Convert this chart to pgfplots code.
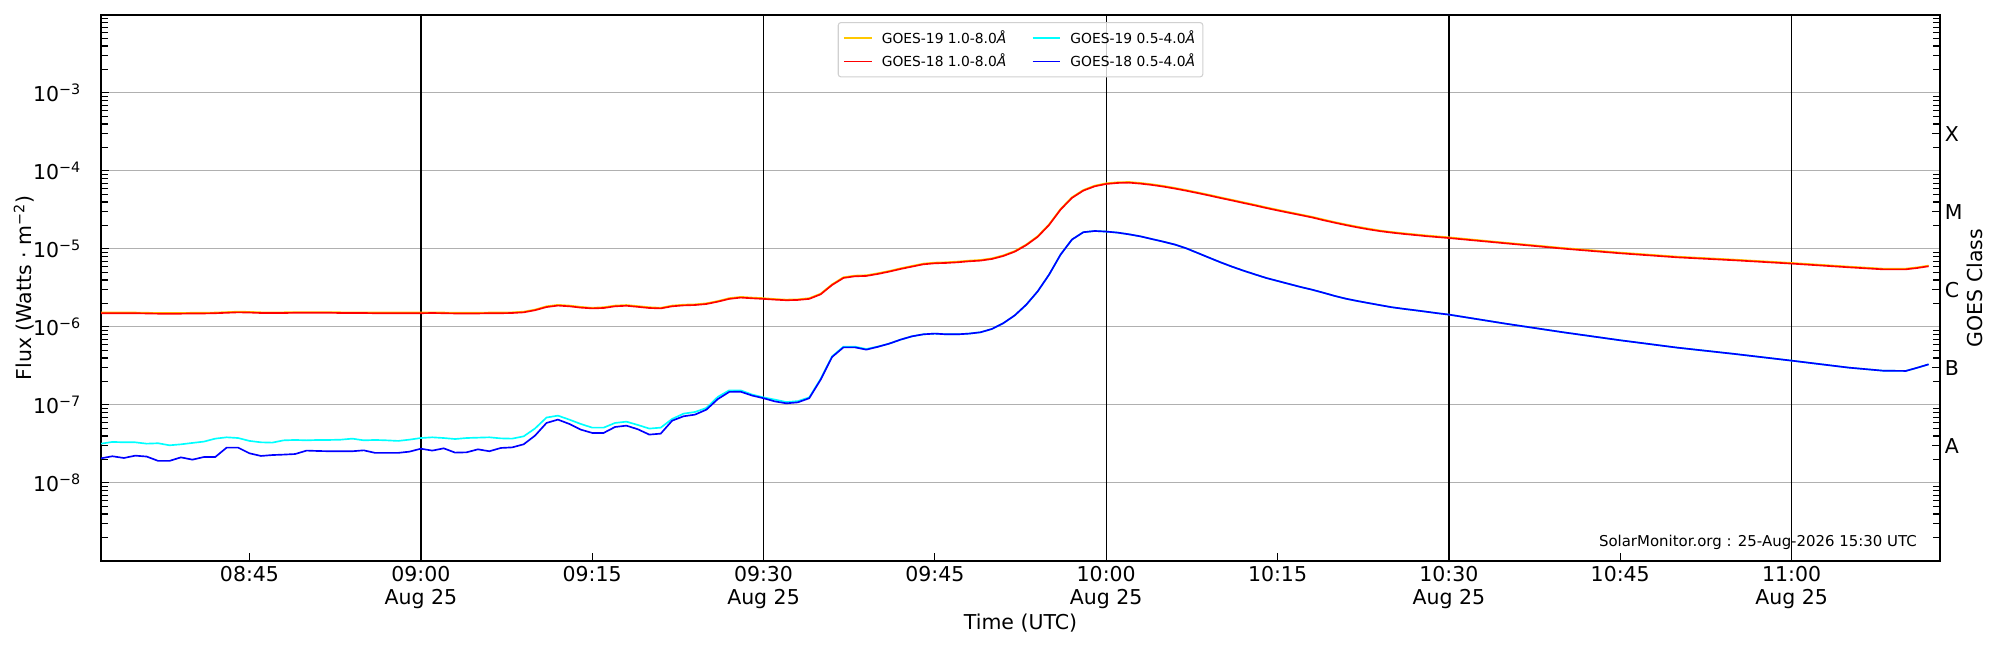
\documentclass[border=0pt]{standalone}
\usepackage{fontspec}
\setmainfont{DejaVu Sans}
\usepackage{pgfplots}
\pgfplotsset{compat=1.18}
\usepackage{pgfplotstable}

\definecolor{gAlong}{HTML}{FF0000}
\definecolor{gAshort}{HTML}{0000FF}
\definecolor{gBlong}{HTML}{FFC800}
\definecolor{gBshort}{HTML}{00FFFF}
\definecolor{gridgray}{HTML}{B0B0B0}
\definecolor{leggray}{HTML}{D0D0D0}

\newcommand{\tf}{\fontsize{14.8}{17.3}\selectfont}

% t = minutes after 09:00 UTC; r = GOES-18 1-8A, b = GOES-18 0.5-4A, g = GOES-19 1-8A, c = GOES-19 0.5-4A
\pgfplotstableread{
t r b g c
-28 1.50e-6 2.07e-8 1.53e-6 3.19e-8
-27 1.50e-6 2.20e-8 1.53e-6 3.36e-8
-26 1.50e-6 2.09e-8 1.53e-6 3.32e-8
-25 1.50e-6 2.24e-8 1.53e-6 3.32e-8
-24 1.49e-6 2.18e-8 1.52e-6 3.19e-8
-23 1.48e-6 1.92e-8 1.51e-6 3.23e-8
-22 1.48e-6 1.92e-8 1.51e-6 3.04e-8
-21 1.48e-6 2.13e-8 1.51e-6 3.13e-8
-20 1.49e-6 1.99e-8 1.52e-6 3.26e-8
-19 1.49e-6 2.15e-8 1.52e-6 3.39e-8
-18 1.50e-6 2.15e-8 1.53e-6 3.70e-8
-17 1.52e-6 2.84e-8 1.55e-6 3.85e-8
-16 1.54e-6 2.84e-8 1.57e-6 3.77e-8
-15 1.53e-6 2.40e-8 1.56e-6 3.46e-8
-14 1.51e-6 2.22e-8 1.54e-6 3.32e-8
-13 1.51e-6 2.28e-8 1.54e-6 3.29e-8
-12 1.51e-6 2.31e-8 1.54e-6 3.52e-8
-11 1.52e-6 2.35e-8 1.55e-6 3.56e-8
-10 1.52e-6 2.60e-8 1.55e-6 3.52e-8
-9 1.52e-6 2.57e-8 1.55e-6 3.56e-8
-8 1.52e-6 2.55e-8 1.55e-6 3.56e-8
-7 1.51e-6 2.55e-8 1.54e-6 3.59e-8
-6 1.51e-6 2.55e-8 1.54e-6 3.70e-8
-5 1.51e-6 2.62e-8 1.54e-6 3.52e-8
-4 1.50e-6 2.43e-8 1.53e-6 3.56e-8
-3 1.50e-6 2.43e-8 1.53e-6 3.52e-8
-2 1.50e-6 2.43e-8 1.53e-6 3.46e-8
-1 1.50e-6 2.52e-8 1.53e-6 3.59e-8
0 1.50e-6 2.75e-8 1.53e-6 3.77e-8
1 1.51e-6 2.60e-8 1.54e-6 3.85e-8
2 1.50e-6 2.78e-8 1.53e-6 3.77e-8
3 1.49e-6 2.45e-8 1.52e-6 3.66e-8
4 1.49e-6 2.47e-8 1.52e-6 3.77e-8
5 1.49e-6 2.70e-8 1.52e-6 3.81e-8
6 1.50e-6 2.55e-8 1.53e-6 3.85e-8
7 1.50e-6 2.81e-8 1.53e-6 3.73e-8
8 1.51e-6 2.86e-8 1.54e-6 3.70e-8
9 1.54e-6 3.13e-8 1.57e-6 3.96e-8
10 1.64e-6 4.05e-8 1.67e-6 5.00e-8
11 1.80e-6 5.88e-8 1.84e-6 6.90e-8
12 1.88e-6 6.49e-8 1.92e-6 7.30e-8
13 1.84e-6 5.71e-8 1.88e-6 6.49e-8
14 1.77e-6 4.83e-8 1.81e-6 5.71e-8
15 1.73e-6 4.38e-8 1.76e-6 5.12e-8
16 1.75e-6 4.38e-8 1.79e-6 5.12e-8
17 1.84e-6 5.22e-8 1.88e-6 5.88e-8
18 1.87e-6 5.43e-8 1.91e-6 6.11e-8
19 1.81e-6 4.88e-8 1.85e-6 5.54e-8
20 1.75e-6 4.17e-8 1.79e-6 4.98e-8
21 1.73e-6 4.29e-8 1.76e-6 5.12e-8
22 1.84e-6 6.29e-8 1.88e-6 6.62e-8
23 1.89e-6 7.16e-8 1.93e-6 7.74e-8
24 1.91e-6 7.52e-8 1.95e-6 8.13e-8
25 1.97e-6 8.71e-8 2.01e-6 9.16e-8
26 2.11e-6 1.19e-7 2.15e-6 1.27e-7
27 2.29e-6 1.47e-7 2.34e-6 1.54e-7
28 2.38e-6 1.48e-7 2.43e-6 1.54e-7
29 2.33e-6 1.32e-7 2.38e-6 1.36e-7
30 2.29e-6 1.22e-7 2.34e-6 1.25e-7
31 2.24e-6 1.11e-7 2.28e-6 1.17e-7
32 2.20e-6 1.05e-7 2.24e-6 1.09e-7
33 2.22e-6 1.08e-7 2.26e-6 1.12e-7
34 2.29e-6 1.22e-7 2.34e-6 1.25e-7
35 2.62e-6 2.11e-7 2.67e-6 2.16e-7
36 3.45e-6 4.12e-7 3.52e-6 4.20e-7
37 4.25e-6 5.48e-7 4.34e-6 5.59e-7
38 4.46e-6 5.48e-7 4.55e-6 5.59e-7
39 4.51e-6 5.12e-7 4.60e-6 5.22e-7
40 4.78e-6 5.56e-7 4.88e-6 5.60e-7
41 5.12e-6 6.11e-7 5.22e-6 6.11e-7
42 5.54e-6 6.88e-7 5.65e-6 6.88e-7
43 5.94e-6 7.59e-7 6.06e-6 7.59e-7
44 6.36e-6 8.05e-7 6.49e-6 8.05e-7
45 6.55e-6 8.22e-7 6.68e-6 8.22e-7
46 6.62e-6 8.05e-7 6.75e-6 8.05e-7
47 6.75e-6 8.05e-7 6.89e-6 8.05e-7
48 6.95e-6 8.22e-7 7.09e-6 8.22e-7
49 7.09e-6 8.55e-7 7.23e-6 8.55e-7
50 7.44e-6 9.43e-7 7.59e-6 9.43e-7
51 8.13e-6 1.12e-6 8.29e-6 1.12e-6
52 9.24e-6 1.41e-6 9.42e-6 1.41e-6
53 1.12e-5 1.93e-6 1.14e-5 1.93e-6
54 1.43e-5 2.86e-6 1.46e-5 2.86e-6
55 2.03e-5 4.69e-6 2.07e-5 4.69e-6
56 3.19e-5 8.45e-6 3.25e-5 8.45e-6
57 4.51e-5 1.32e-5 4.60e-5 1.32e-5
58 5.60e-5 1.64e-5 5.71e-5 1.64e-5
59 6.36e-5 1.70e-5 6.49e-5 1.70e-5
60 6.81e-5 1.67e-5 6.95e-5 1.67e-5
61 7.02e-5 1.62e-5 7.16e-5 1.62e-5
62 7.08e-5 1.54e-5 7.22e-5 1.54e-5
63 6.88e-5 1.45e-5 7.02e-5 1.45e-5
64 6.62e-5 1.34e-5 6.75e-5 1.34e-5
65 6.30e-5 1.24e-5 6.43e-5 1.24e-5
66 5.95e-5 1.14e-5 6.07e-5 1.14e-5
67 5.58e-5 1.02e-5 5.69e-5 1.02e-5
68 5.21e-5 8.89e-6 5.31e-5 8.89e-6
69 4.85e-5 7.74e-6 4.95e-5 7.74e-6
70 4.50e-5 6.75e-6 4.59e-5 6.75e-6
71 4.19e-5 5.94e-6 4.27e-5 5.94e-6
72 3.89e-5 5.28e-6 3.97e-5 5.28e-6
73 3.62e-5 4.73e-6 3.69e-5 4.73e-6
74 3.35e-5 4.25e-6 3.42e-5 4.25e-6
75 3.12e-5 3.89e-6 3.18e-5 3.89e-6
76 2.91e-5 3.56e-6 2.97e-5 3.56e-6
77 2.72e-5 3.26e-6 2.77e-5 3.26e-6
78 2.54e-5 3.01e-6 2.59e-5 3.01e-6
79 2.34e-5 2.75e-6 2.39e-5 2.75e-6
80 2.17e-5 2.50e-6 2.21e-5 2.50e-6
81 2.02e-5 2.30e-6 2.06e-5 2.30e-6
82 1.89e-5 2.15e-6 1.93e-5 2.15e-6
83 1.78e-5 2.02e-6 1.82e-5 2.02e-6
84 1.69e-5 1.90e-6 1.72e-5 1.90e-6
85 1.62e-5 1.79e-6 1.65e-5 1.79e-6
86 1.56e-5 1.71e-6 1.59e-5 1.71e-6
87 1.51e-5 1.64e-6 1.54e-5 1.64e-6
88 1.46e-5 1.57e-6 1.49e-5 1.57e-6
89 1.42e-5 1.50e-6 1.45e-5 1.50e-6
90 1.38e-5 1.44e-6 1.41e-5 1.44e-6
95 1.18e-5 1.10e-6 1.20e-5 1.10e-6
100 1.01e-5 8.55e-7 1.03e-5 8.55e-7
105 8.80e-6 6.75e-7 8.98e-6 6.75e-7
110 7.81e-6 5.43e-7 7.97e-6 5.43e-7
115 7.16e-6 4.51e-7 7.30e-6 4.51e-7
120 6.49e-6 3.70e-7 6.62e-6 3.70e-7
125 5.82e-6 3.01e-7 5.94e-6 3.01e-7
128 5.48e-6 2.75e-7 5.59e-6 2.75e-7
130 5.48e-6 2.73e-7 5.59e-6 2.73e-7
131 5.70e-6 3.00e-7 5.81e-6 3.00e-7
132 6.00e-6 3.32e-7 6.12e-6 3.32e-7
}\goesdata

\begin{document}
\begin{tikzpicture}
\path[use as bounding box] (-73.0pt,-64.3pt) rectangle (1372.4pt,405.4pt);
\begin{axis}[
  at={(0pt,0pt)}, anchor=south west,
  scale only axis, width=1329.1pt, height=394.6pt,
  xmin=-28, xmax=133,
  ymode=log, ymin=1e-9, ymax=1e-2,
  axis line style={line width=1pt},
  tick style={line width=0.75pt, black},
  major tick length=6pt, minor tick length=5pt,
  tick align=inside,
  xtick pos=bottom, ytick pos=left,
  xtick={-15,15,45,75,105},
  xticklabels={08:45,09:15,09:45,10:15,10:45},
  extra x ticks={0,30,60,90,120},
  extra x tick labels={{09:00\\Aug 25},{09:30\\Aug 25},{10:00\\Aug 25},{10:30\\Aug 25},{11:00\\Aug 25}},
  extra x tick style={grid=major, major grid style={black, line width=1pt}},
  xticklabel style={font=\tf, align=center},
  ytick={1e-8,1e-7,1e-6,1e-5,1e-4,1e-3},
  yticklabels={10\textsuperscript{−8},10\textsuperscript{−7},10\textsuperscript{−6},10\textsuperscript{−5},10\textsuperscript{−4},10\textsuperscript{−3}},
  minor ytick={2e-9,3e-9,4e-9,5e-9,6e-9,7e-9,8e-9,9e-9,2e-8,3e-8,4e-8,5e-8,6e-8,7e-8,8e-8,9e-8,2e-7,3e-7,4e-7,5e-7,6e-7,7e-7,8e-7,9e-7,2e-6,3e-6,4e-6,5e-6,6e-6,7e-6,8e-6,9e-6,2e-5,3e-5,4e-5,5e-5,6e-5,7e-5,8e-5,9e-5,2e-4,3e-4,4e-4,5e-4,6e-4,7e-4,8e-4,9e-4,2e-3,3e-3,4e-3,5e-3,6e-3,7e-3,8e-3,9e-3},
  yticklabel style={font=\tf, xshift=-11pt},
  ymajorgrids, major grid style={gridgray, line width=0.75pt},
  xlabel={Time (UTC)}, ylabel={Flux (Watts · m\textsuperscript{−2})},
  label style={font=\tf},
  xlabel style={at={(axis description cs:0.5,-0.1136)}, anchor=center},
  ylabel style={at={(axis description cs:-0.0419,0.5)}, anchor=center},
  legend columns=2,
  legend cell align=left,
  legend style={at={(0.5,0.987)}, anchor=north,
    font=\fontsize{10}{12}\selectfont,
    draw=leggray, line width=0.75pt, rounded corners=2pt,
    fill=white, fill opacity=0.8, text opacity=1,
    inner xsep=3.6pt, inner ysep=3.7pt, row sep=2.3pt,
    /tikz/every odd column/.append style={column sep=4.9pt},
    /tikz/every even column/.append style={column sep=16.4pt}},
  legend image code/.code={\draw[#1, line width=1pt, rounded corners=0pt] (0pt,0pt) -- (20pt,0pt);},
]
\addlegendimage{gBlong}
\addlegendentry{GOES-19 1.0-8.0\textit{Å}}
\addlegendimage{gBshort}
\addlegendentry{GOES-19 0.5-4.0\textit{Å}}
\addlegendimage{gAlong}
\addlegendentry{GOES-18 1.0-8.0\textit{Å}}
\addlegendimage{gAshort}
\addlegendentry{GOES-18 0.5-4.0\textit{Å}}

\addplot[gBlong, line width=1.2pt, forget plot] table[x=t, y=g] {\goesdata};
\addplot[gAlong, line width=1.2pt, forget plot] table[x=t, y=r] {\goesdata};
\addplot[gBshort, line width=1.2pt, forget plot] table[x=t, y=c] {\goesdata};
\addplot[gAshort, line width=1.2pt, forget plot] table[x=t, y=b] {\goesdata};

\node[anchor=south east, inner sep=0pt, font=\fontsize{10.8}{13}\selectfont] at (rel axis cs:0.9875,0.02) {SolarMonitor.org : 25-Aug-2026 15:30 UTC};
\end{axis}

\begin{axis}[
  at={(0pt,0pt)}, anchor=south west,
  scale only axis, width=1329.1pt, height=394.6pt,
  xmin=-28, xmax=133,
  ymode=log, ymin=1e-9, ymax=1e-2,
  axis x line=none, axis y line*=right,
  axis line style={line width=1pt},
  tick style={line width=0.75pt, black},
  major tick length=6pt, minor tick length=5pt,
  tick align=inside,
  ytick={3e-8,3e-7,3e-6,3e-5,3e-4},
  yticklabels={A,B,C,M,X},
  minor ytick={2e-9,3e-9,4e-9,5e-9,6e-9,7e-9,8e-9,9e-9,2e-8,4e-8,5e-8,6e-8,7e-8,8e-8,9e-8,2e-7,4e-7,5e-7,6e-7,7e-7,8e-7,9e-7,2e-6,4e-6,5e-6,6e-6,7e-6,8e-6,9e-6,2e-5,4e-5,5e-5,6e-5,7e-5,8e-5,9e-5,2e-4,4e-4,5e-4,6e-4,7e-4,8e-4,9e-4,2e-3,3e-3,4e-3,5e-3,6e-3,7e-3,8e-3,9e-3},
  yticklabel style={font=\tf},
  ylabel={GOES Class},
  ylabel style={font=\tf, at={(axis description cs:1.019,0.5)}, anchor=center},
]
\end{axis}
\end{tikzpicture}
\end{document}
